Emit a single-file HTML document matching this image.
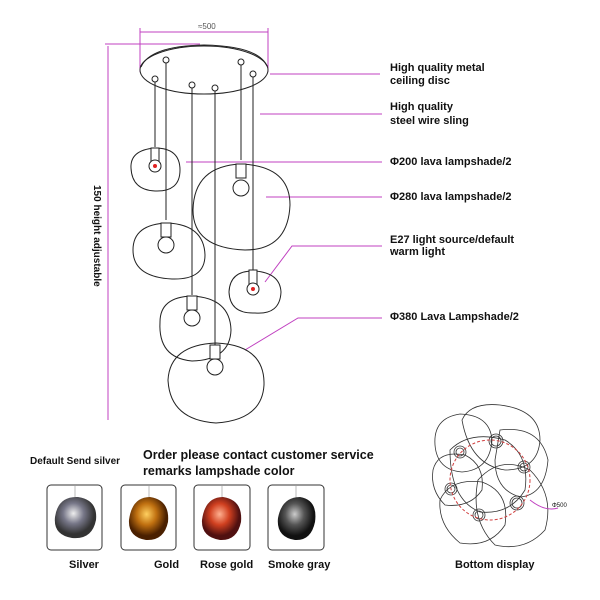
<!DOCTYPE html>
<html><head><meta charset="utf-8"><style>
body{margin:0;background:#fff;width:600px;height:600px;overflow:hidden}
svg{display:block}
text{font-family:"Liberation Sans",sans-serif;font-weight:bold;fill:#111}
</style></head><body>
<svg width="600" height="600" viewBox="0 0 600 600">
<defs>
<radialGradient id="gs" cx="45%" cy="40%"><stop offset="0" stop-color="#eee"/><stop offset=".5" stop-color="#778"/><stop offset="1" stop-color="#333"/></radialGradient>
<radialGradient id="gg" cx="45%" cy="40%"><stop offset="0" stop-color="#ffd060"/><stop offset=".5" stop-color="#c07010"/><stop offset="1" stop-color="#4a2000"/></radialGradient>
<radialGradient id="gr" cx="45%" cy="40%"><stop offset="0" stop-color="#ffb090"/><stop offset=".5" stop-color="#d04020"/><stop offset="1" stop-color="#501010"/></radialGradient>
<radialGradient id="gk" cx="45%" cy="40%"><stop offset="0" stop-color="#ccc"/><stop offset=".5" stop-color="#555"/><stop offset="1" stop-color="#111"/></radialGradient>
</defs>
<g stroke="#c040c0" stroke-width="1" fill="none">
<line x1="140" y1="32" x2="268" y2="32"/><line x1="140" y1="28" x2="140" y2="72"/><line x1="268" y1="28" x2="268" y2="72"/>
<line x1="105" y1="44" x2="200" y2="44"/><line x1="108" y1="46" x2="108" y2="420"/>
<line x1="270" y1="74" x2="380" y2="74"/><line x1="260" y1="114" x2="382" y2="114"/>
<line x1="186" y1="162" x2="382" y2="162"/><line x1="266" y1="197" x2="382" y2="197"/>
<polyline points="265,282 292,246 382,246"/><polyline points="245,350 298,318 382,318"/>
</g>
<text x="198" y="29" style="font-size:8px;font-weight:normal;fill:#555">≈500</text>
<text x="94" y="185" transform="rotate(90 94 185)" style="font-size:10px">150 height adjustable</text>
<g stroke="#222" fill="none" stroke-width="1">
<ellipse cx="204" cy="70" rx="64" ry="24" fill="#fff"/>
<path d="M141 67 Q150 46 204 45 Q258 46 267 66"/>
<line x1="155" y1="79" x2="155" y2="147"/><line x1="166" y1="60" x2="166" y2="220"/>
<line x1="192" y1="85" x2="192" y2="295"/><line x1="215" y1="88" x2="215" y2="345"/>
<line x1="241" y1="62" x2="241" y2="160"/><line x1="253" y1="74" x2="253" y2="270"/>
<path d="M131 168 Q130 150 155 148 Q180 148 180 170 Q180 192 155 191 Q132 190 131 168Z"/>
<path d="M133 250 Q133 224 168 223 Q204 225 205 255 Q205 280 172 279 Q133 277 133 250Z"/>
<path d="M160 322 Q160 297 192 296 Q230 298 231 330 Q230 360 192 361 Q158 358 160 322Z"/>
<path d="M168 380 Q170 345 216 343 Q265 345 264 385 Q262 420 216 423 Q170 420 168 380Z"/>
<path d="M193 210 Q194 166 241 164 Q290 166 290 205 Q288 250 245 250 Q193 248 193 210Z"/>
<path d="M229 292 Q230 270 255 271 Q280 273 281 292 Q280 315 255 313 Q230 314 229 292Z"/>
</g>
<g stroke="#222" fill="#fff">
<circle cx="166" cy="60" r="3"/><circle cx="155" cy="79" r="3"/><circle cx="192" cy="85" r="3"/><circle cx="215" cy="88" r="3"/><circle cx="241" cy="62" r="3"/><circle cx="253" cy="74" r="3"/>
<rect x="151" y="148" width="8" height="14"/><circle cx="155" cy="166" r="6"/>
<rect x="161" y="223" width="10" height="14"/><circle cx="166" cy="245" r="8"/>
<rect x="187" y="296" width="10" height="14"/><circle cx="192" cy="318" r="8"/>
<rect x="210" y="345" width="10" height="14"/><circle cx="215" cy="367" r="8"/>
<rect x="236" y="164" width="10" height="14"/><circle cx="241" cy="188" r="8"/>
<rect x="249" y="270" width="8" height="14"/><circle cx="253" cy="289" r="6"/>
</g>
<g fill="#e02020"><circle cx="155" cy="166" r="2"/><circle cx="253" cy="289" r="2"/></g>
<g style="font-size:11px">
<text x="390" y="71">High quality metal</text><text x="390" y="84">ceiling disc</text>
<text x="390" y="110">High quality</text><text x="390" y="124">steel wire sling</text>
<text x="390" y="165">Φ200 lava lampshade/2</text>
<text x="390" y="200">Φ280 lava lampshade/2</text>
<text x="390" y="243">E27 light source/default</text><text x="390" y="255">warm light</text>
<text x="390" y="320">Φ380 Lava Lampshade/2</text>
<text x="30" y="464" style="font-size:10px">Default Send silver</text>
</g>
<text x="143" y="459" style="font-size:12.5px">Order please contact customer service</text>
<text x="143" y="475" style="font-size:12.5px">remarks lampshade color</text>
<g stroke="#333" fill="#fff"><rect x="47" y="485" width="55" height="65" rx="4"/><rect x="121" y="485" width="55" height="65" rx="4"/><rect x="194" y="485" width="56" height="65" rx="4"/><rect x="268" y="485" width="56" height="65" rx="4"/></g>
<g stroke="#bbb"><line x1="75" y1="486" x2="75" y2="498"/><line x1="149" y1="486" x2="149" y2="498"/><line x1="222" y1="486" x2="222" y2="498"/><line x1="296" y1="486" x2="296" y2="498"/></g>
<path d="M55 517 Q58 496 78 497 Q98 500 96 520 Q92 540 72 538 Q53 535 55 517Z" fill="url(#gs)"/>
<path d="M129 520 Q132 497 150 497 Q170 500 168 522 Q164 541 146 540 Q128 537 129 520Z" fill="url(#gg)"/>
<path d="M202 520 Q205 497 223 497 Q243 500 241 522 Q237 541 220 540 Q201 537 202 520Z" fill="url(#gr)"/>
<path d="M278 518 Q282 497 300 497 Q318 500 315 522 Q311 541 295 540 Q276 537 278 518Z" fill="url(#gk)"/>
<g style="font-size:11px"><text x="69" y="568">Silver</text><text x="154" y="568">Gold</text><text x="200" y="568">Rose gold</text><text x="268" y="568">Smoke gray</text><text x="455" y="568">Bottom display</text></g>
<g stroke="#333" fill="none" stroke-width=".8">
<path d="M435 445 Q433 418 460 414 Q490 415 492 440 Q490 470 462 472 Q437 470 435 445Z"/>
<path d="M462 420 Q470 402 500 405 Q540 410 540 440 Q538 470 505 470 Q470 465 462 420Z"/>
<path d="M500 430 Q540 425 548 460 Q545 495 520 497 Q495 490 495 460Z"/>
<path d="M433 470 Q438 450 465 455 Q485 465 482 490 Q470 508 445 505 Q430 490 433 470Z"/>
<path d="M440 500 Q450 478 482 482 Q510 492 505 525 Q490 548 460 543 Q438 525 440 500Z"/>
<path d="M478 480 Q500 455 530 470 Q555 495 545 530 Q525 552 495 545 Q470 520 478 480Z"/>
<path d="M450 450 Q470 430 505 440 Q530 455 525 490 Q510 515 480 512 Q450 500 450 450Z"/>
<circle cx="460" cy="452" r="6"/><circle cx="496" cy="441" r="7"/><circle cx="524" cy="467" r="6"/><circle cx="451" cy="489" r="6"/><circle cx="479" cy="515" r="6"/><circle cx="517" cy="503" r="7"/>
<circle cx="460" cy="452" r="4"/><circle cx="496" cy="441" r="5"/><circle cx="524" cy="467" r="4"/><circle cx="451" cy="489" r="4"/><circle cx="479" cy="515" r="4"/><circle cx="517" cy="503" r="5"/>
</g>
<circle cx="490" cy="480" r="40" stroke="#d04040" stroke-dasharray="3,2" fill="none"/>
<path d="M530 500 Q545 512 558 508" stroke="#c040c0" fill="none"/>
<text x="552" y="507" style="font-size:6px;font-weight:normal">Φ500</text>
</svg>
</body></html>
